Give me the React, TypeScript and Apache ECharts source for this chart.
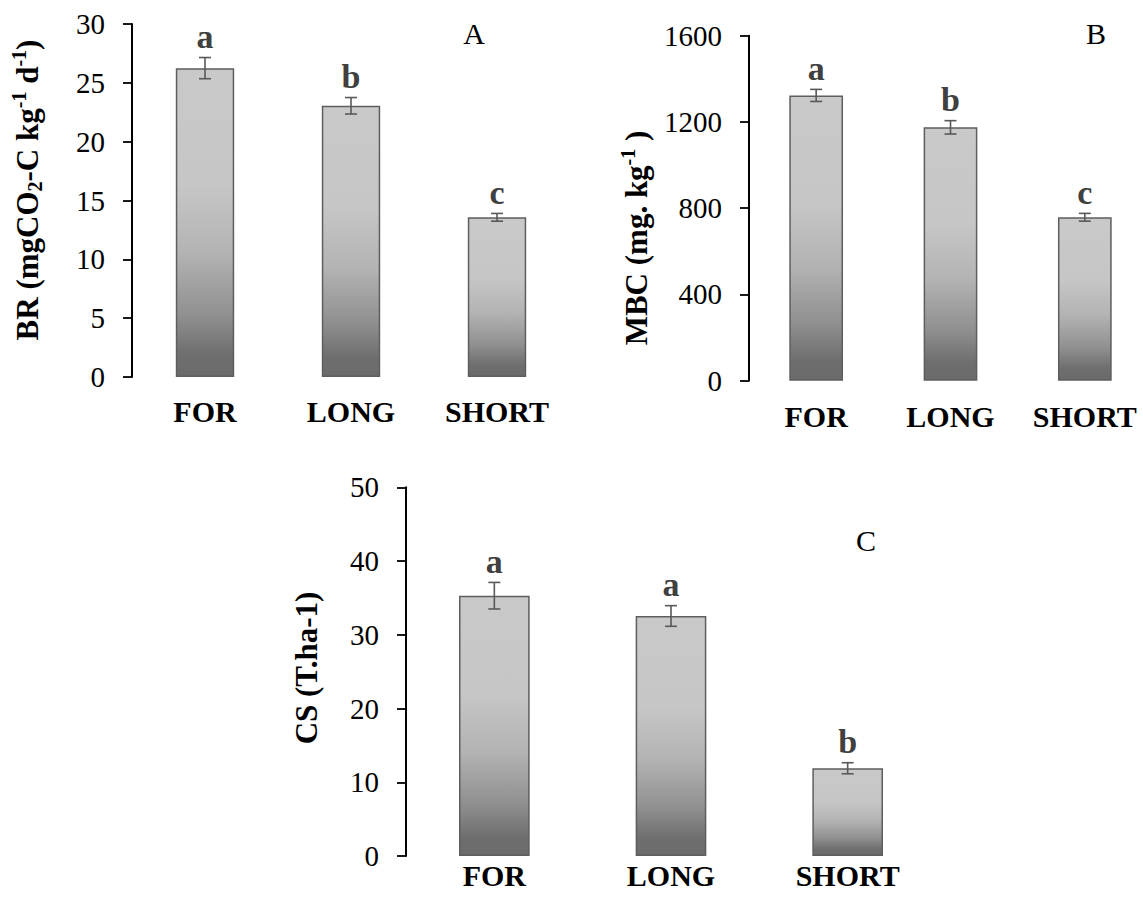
import React, { useEffect, useRef } from "react";
import * as echarts from "echarts";

// ---- Data ----
const categories = ["FOR", "LONG", "SHORT"];

const brValues = [26.25, 23.05, 13.57];
const brErrors = [0.9, 0.7, 0.33];
const brLetters = ["a", "b", "c"];
const brTicks = { max: 30, interval: 5 };

const mbcValues = [1323, 1175, 758];
const mbcErrors = [28, 31, 18];
const mbcLetters = ["a", "b", "c"];
const mbcTicks = { max: 1600, interval: 400 };

const csValues = [35.3, 32.55, 11.9];
const csErrors = [1.8, 1.4, 0.75];
const csLetters = ["a", "a", "b"];
const csTicks = { max: 50, interval: 10 };

const panelTags = ["A", "B", "C"];

// ---- Layout / style ----
const FONT = "Liberation Serif";
const grids = [
  { left: 132, top: 24, width: 438, height: 353 },
  { left: 749, top: 35.7, width: 403, height: 345 },
  { left: 406, top: 487.3, width: 530, height: 368.7 },
];
const xLabelMargins = [19, 21, 4];
const tagPos = [
  [474, 33],
  [1096, 33],
  [866, 540],
];

const barGradient = {
  type: "linear",
  x: 0,
  y: 0,
  x2: 0,
  y2: 1,
  colorStops: [
    { offset: 0, color: "#c9c9c9" },
    { offset: 0.38, color: "#c6c6c6" },
    { offset: 0.6, color: "#b3b3b3" },
    { offset: 0.8, color: "#909090" },
    { offset: 0.93, color: "#6e6e6e" },
    { offset: 1, color: "#6b6b6b" },
  ],
};

const panels = [
  { values: brValues, errors: brErrors, letters: brLetters, ticks: brTicks },
  { values: mbcValues, errors: mbcErrors, letters: mbcLetters, ticks: mbcTicks },
  { values: csValues, errors: csErrors, letters: csLetters, ticks: csTicks },
];

const titleRich = {
  b: { fontFamily: FONT, fontSize: 31, fontWeight: "bold", fill: "#000", lineHeight: 36 },
  sup: { fontFamily: FONT, fontSize: 20, fontWeight: "bold", fill: "#000", lineHeight: 20, verticalAlign: "top" },
  sub: { fontFamily: FONT, fontSize: 20, fontWeight: "bold", fill: "#000", lineHeight: 20, verticalAlign: "bottom" },
};

const yTitles = [
  { text: "{b|BR (mgCO}{sub|2}{b|-C kg}{sup|-1}{b| d}{sup|-1}{b|)}", x: 27, y: 190 },
  { text: "{b|MBC (mg. kg}{sup|-1}{b| )}", x: 636, y: 238 },
  { text: "{b|CS (T.ha-1)}", x: 306, y: 668 },
];

function buildOption() {
  const series: any[] = [];
  panels.forEach((p, k) => {
    series.push({
      type: "bar",
      xAxisIndex: k,
      yAxisIndex: k,
      data: p.values,
      barWidth: "40%",
      itemStyle: { color: barGradient, borderColor: "#5e5e5e", borderWidth: 1.5 },
      silent: true,
    });
    series.push({
      type: "custom",
      xAxisIndex: k,
      yAxisIndex: k,
      data: p.values.map((v, i) => [i, v, p.errors[i]]),
      z: 5,
      silent: true,
      renderItem: (params: any, api: any) => {
        const i = api.value(0);
        const v = api.value(1);
        const e = api.value(2);
        const top = api.coord([i, v + e]);
        const bot = api.coord([i, v - e]);
        const cw = 6;
        const ls = { stroke: "#595959", lineWidth: 1.6 };
        return {
          type: "group",
          children: [
            { type: "line", shape: { x1: top[0], y1: top[1], x2: bot[0], y2: bot[1] }, style: ls },
            { type: "line", shape: { x1: top[0] - cw, y1: top[1], x2: top[0] + cw, y2: top[1] }, style: ls },
            { type: "line", shape: { x1: bot[0] - cw, y1: bot[1], x2: bot[0] + cw, y2: bot[1] }, style: ls },
            {
              type: "text",
              x: top[0],
              y: top[1] - 4,
              style: {
                text: p.letters[i],
                fontFamily: FONT,
                fontSize: 34,
                fontWeight: "bold",
                fill: "#404040",
                align: "center",
                verticalAlign: "bottom",
              },
            },
          ],
        };
      },
    });
  });

  const graphic: any[] = [];
  panelTags.forEach((t, k) => {
    graphic.push({
      type: "text",
      x: tagPos[k][0],
      y: tagPos[k][1],
      style: {
        text: t,
        fontFamily: FONT,
        fontSize: 30,
        fill: "#000",
        align: "center",
        verticalAlign: "middle",
      },
    });
  });
  yTitles.forEach((t) => {
    graphic.push({
      type: "text",
      x: t.x,
      y: t.y,
      rotation: Math.PI / 2,
      style: {
        text: t.text,
        rich: titleRich,
        align: "center",
        verticalAlign: "middle",
      },
    });
  });

  return {
    animation: false,
    backgroundColor: "#ffffff",
    grid: grids.map((g) => ({ ...g, containLabel: false, outerBoundsMode: "none" })),
    xAxis: grids.map((g, k) => ({
      type: "category",
      gridIndex: k,
      data: categories,
      axisLine: { show: false },
      axisTick: { show: false },
      axisLabel: {
        fontFamily: FONT,
        fontSize: 30,
        fontWeight: "bold",
        color: "#000",
        margin: xLabelMargins[k],
        interval: 0,
      },
      splitLine: { show: false },
    })),
    yAxis: panels.map((p, k) => ({
      type: "value",
      gridIndex: k,
      min: 0,
      max: p.ticks.max,
      interval: p.ticks.interval,
      axisLine: { show: true, lineStyle: { color: "#000", width: 2 } },
      axisTick: { show: true, length: 9, lineStyle: { color: "#000", width: 1.8 } },
      axisLabel: {
        fontFamily: FONT,
        fontSize: 29,
        color: "#000",
        margin: 27,
        formatter: (v: number) => String(v),
      },
      splitLine: { show: false },
    })),
    series,
    graphic,
  };
}

export default function App() {
  const ref = useRef<HTMLDivElement>(null);
  useEffect(() => {
    if (!ref.current) return;
    const chart = echarts.init(ref.current, null, { renderer: "svg" });
    chart.setOption(buildOption() as any);
    return () => chart.dispose();
  }, []);
  return (
    <div
      ref={ref}
      style={{ position: "fixed", left: 0, top: 0, width: 1143, height: 906, background: "#fff" }}
    />
  );
}
